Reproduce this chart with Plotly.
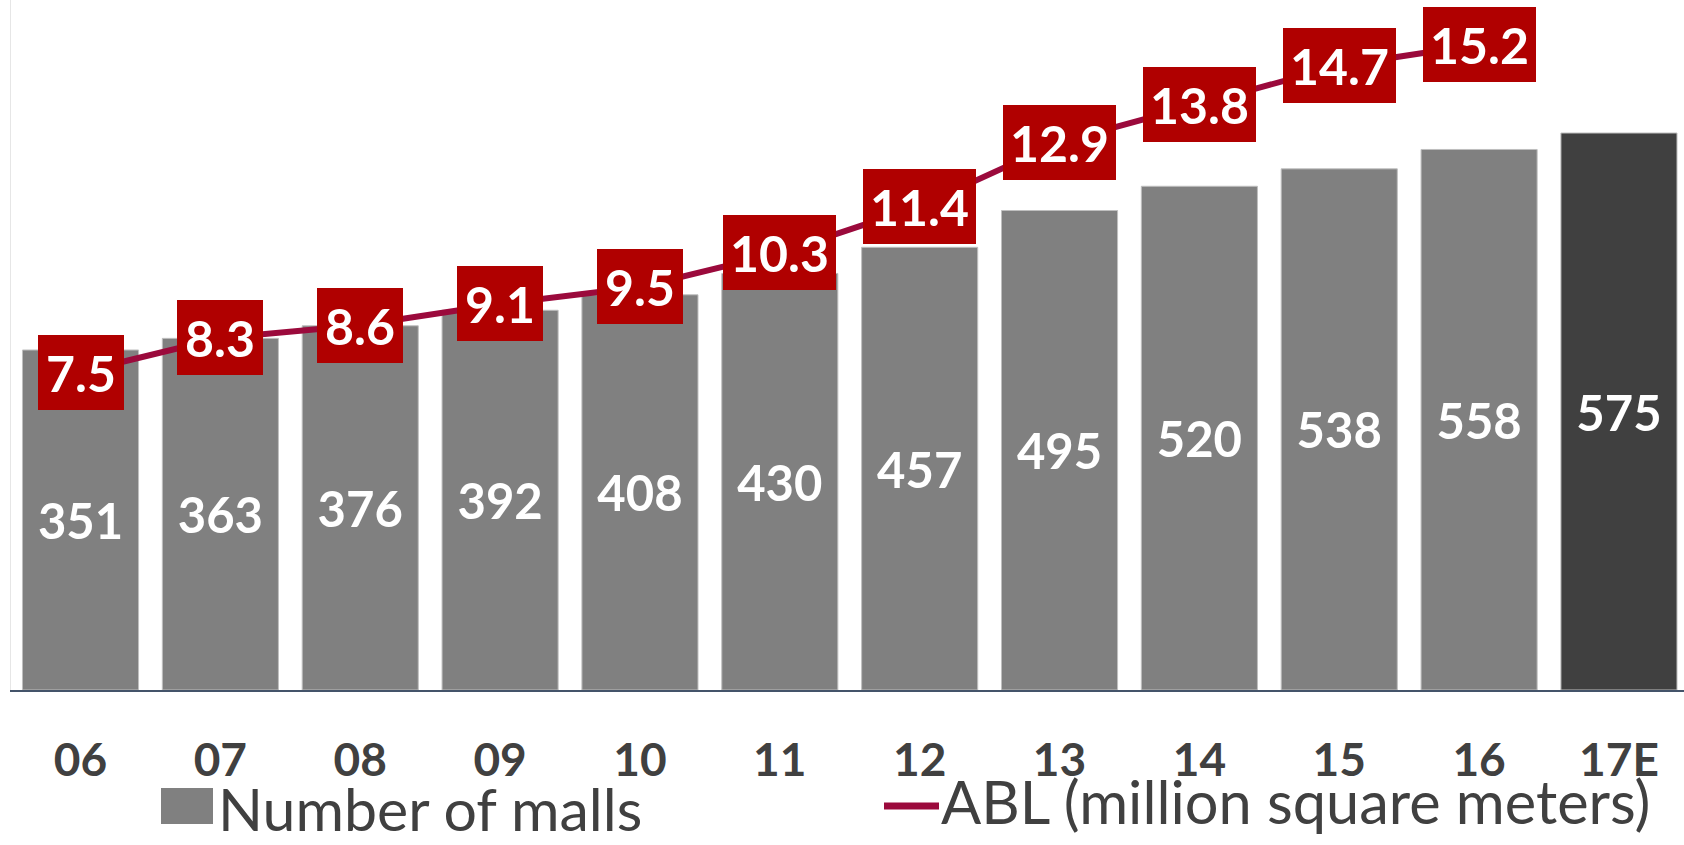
import plotly.graph_objects as go

# ---- data ----
years = ["06", "07", "08", "09", "10", "11", "12", "13", "14", "15", "16", "17E"]
malls = [351, 363, 376, 392, 408, 430, 457, 495, 520, 538, 558, 575]
abl_years = ["06", "07", "08", "09", "10", "11", "12", "13", "14", "15", "16"]
abl = [7.5, 8.3, 8.6, 9.1, 9.5, 10.3, 11.4, 12.9, 13.8, 14.7, 15.2]
legend_malls = "Number of malls"
legend_abl = "ABL (million square meters)"

# ---- geometry helpers (figure px) ----
W, H = 1684, 845
ML, MR, MT, MB = 11, 0, 0, 155
PW = W - ML - MR
PH = H - MT - MB


def px_x(p):
    return (p - ML) / PW


def px_y(p):
    return (MT + PH - p) / PH


FONT = "Lato, Calibri, Carlito, sans-serif"
BAR_GRAY = "#808080"
BAR_DARK = "#404040"
LINE_RED = "#9B0A3C"
BOX_RED = "#B00000"
TEXT_DARK = "#404040"

bar_colors = [BAR_GRAY] * (len(years) - 1) + [BAR_DARK]

fig = go.Figure()

fig.add_trace(go.Bar(
    x=years, y=malls,
    name=legend_malls,
    marker=dict(color=bar_colors, line=dict(color="#BFBFBF", width=1)),
    texttemplate="%{y}",
    textposition="inside",
    insidetextanchor="middle",
    textangle=0,
    textfont=dict(family=FONT, size=49, color="white", weight="bold"),
    showlegend=False,
    hoverinfo="x+y",
))

fig.add_trace(go.Scatter(
    x=abl_years, y=abl,
    name=legend_abl,
    mode="lines",
    line=dict(color=LINE_RED, width=6),
    yaxis="y2",
    showlegend=False,
))

# value boxes on the ABL line (category index positions on the x axis)
for xv, v in zip(abl_years, abl):
    txt = f"{v}"
    fig.add_annotation(
        x=years.index(xv), y=v, xref="x", yref="y2",
        text=f"<b>{txt}</b>",
        showarrow=False,
        xanchor="center", yanchor="middle",
        width=86 if len(txt) <= 3 else 113,
        height=75,
        bgcolor=BOX_RED,
        borderpad=0, borderwidth=0,
        font=dict(family=FONT, size=50, color="white"),
    )

# manual legend
fig.add_shape(type="rect", xref="paper", yref="paper",
              x0=px_x(161), x1=px_x(213), y0=px_y(824), y1=px_y(788),
              fillcolor=BAR_GRAY, line=dict(width=0))
fig.add_annotation(xref="paper", yref="paper", x=px_x(216), y=px_y(808),
                   xanchor="left", yanchor="middle", showarrow=False,
                   text=legend_malls,
                   font=dict(family=FONT, size=59, color=TEXT_DARK))
fig.add_shape(type="line", xref="paper", yref="paper",
              x0=px_x(884), x1=px_x(939), y0=px_y(806), y1=px_y(806),
              line=dict(color=LINE_RED, width=7))
fig.add_annotation(xref="paper", yref="paper", x=px_x(939), y=px_y(801),
                   xanchor="left", yanchor="middle", showarrow=False,
                   text=legend_abl,
                   font=dict(family=FONT, size=59.5, color=TEXT_DARK))

fig.update_layout(
    width=W, height=H,
    margin=dict(l=ML, r=MR, t=MT, b=MB, pad=0),
    paper_bgcolor="white",
    plot_bgcolor="white",
    bargap=0.17,
    showlegend=False,
    xaxis=dict(
        type="category",
        range=[-0.497, 11.465],
        showline=True, linecolor="#44546A", linewidth=2,
        showgrid=False, zeroline=False,
        ticks="",
        ticklabelstandoff=29,
        tickfont=dict(family=FONT, size=46, color=TEXT_DARK, weight="bold"),
    ),
    yaxis=dict(
        range=[0, 712.3],
        showline=True, linecolor="#E6E6E6", linewidth=1,
        showgrid=False, zeroline=False, showticklabels=False, ticks="",
    ),
    yaxis2=dict(
        range=[0.0235, 16.247],
        overlaying="y", side="right",
        visible=False, showgrid=False, zeroline=False,
    ),
)

fig.write_html("out.html")
